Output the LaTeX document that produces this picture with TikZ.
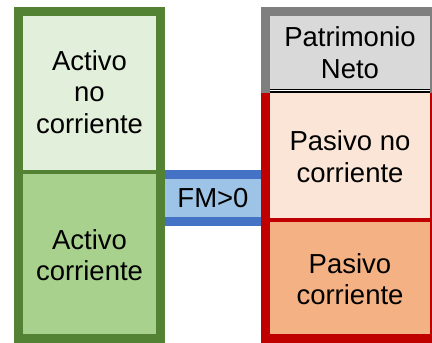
\documentclass[tikz,border=0pt]{standalone}
\usepackage{fontspec}
\setmainfont{Liberation Sans}
\usepackage{xcolor}
\definecolor{actline}{HTML}{548235}
\definecolor{ancfill}{HTML}{E2EFDA}
\definecolor{acfill}{HTML}{A9D18E}
\definecolor{fmline}{HTML}{4472C4}
\definecolor{fmfill}{HTML}{9DC3E6}
\definecolor{pnline}{HTML}{7F7F7F}
\definecolor{pnfill}{HTML}{D9D9D9}
\definecolor{pasline}{HTML}{C00000}
\definecolor{pncfill}{HTML}{FBE5D6}
\definecolor{pcfill}{HTML}{F4B183}

\tikzset{
  cell/.style={inner sep=0pt, align=center, font=\fontsize{27.5}{31.5}\selectfont},
  border/.style={line width=9pt}
}

\begin{document}
\begin{tikzpicture}[x=1pt,y=-1pt]
\useasboundingbox (0,0) rectangle (432,343);

%% fondo de maniobra
\node[cell, draw=fmline, fill=fmfill, line width=9pt, minimum width=105pt, minimum height=47pt] (fm) at (213,198) {FM>0};

%% activo
\node[cell, fill=ancfill, minimum width=142pt, minimum height=160pt] (anc) at (89.5,92) {Activo\\no\\corriente};
\node[cell, fill=acfill, minimum width=142pt, minimum height=166pt] (ac) at (89.5,255) {Activo\\corriente};

\draw[border, draw=actline] (anc.north west) rectangle (ac.south east);
\draw[actline, line width=4pt] (anc.south west) -- (anc.south east);

%% patrimonio neto y pasivo
\node[cell, fill=pnfill, minimum width=169pt, minimum height=81pt] (pn) at (350,52.5) {Patrimonio\\Neto};
\node[cell, fill=pncfill, minimum width=169pt, minimum height=127pt] (pnc) at (350,156.5) {Pasivo no\\corriente};
\node[cell, fill=pcfill, minimum width=169pt, minimum height=118.5pt] (pc) at (350,279.25) {Pasivo\\corriente};

\draw[border, draw=pnline] (pn.south west) -- (pn.north west) -- (pn.north east) -- (pn.south east);
\draw[border, draw=pasline] (pnc.north west) -- (pc.south west) -- (pc.south east) -- (pnc.north east);
\draw[pasline, line width=4pt] (pnc.south west) -- (pnc.south east);
\draw[double=white, double distance=1.3pt, line width=1.3pt] ([xshift=4.5pt,yshift=2.4pt]pn.south west) -- ([xshift=-4.5pt,yshift=2.4pt]pn.south east);

\end{tikzpicture}
\end{document}
